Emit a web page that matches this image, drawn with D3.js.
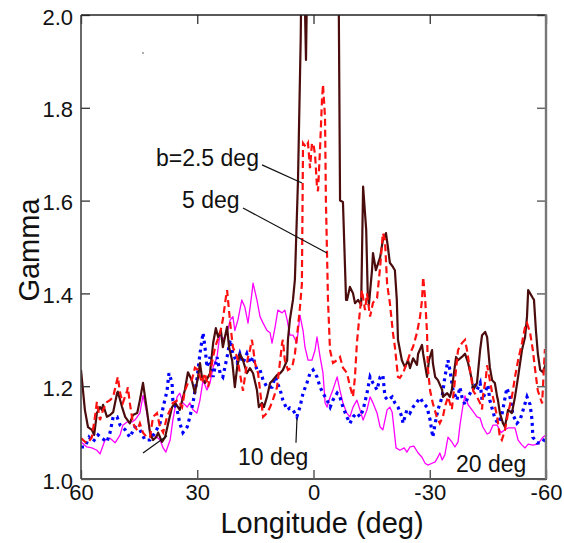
<!DOCTYPE html>
<html>
<head>
<meta charset="utf-8">
<script src="https://cdn.jsdelivr.net/npm/d3@7/dist/d3.min.js"></script>
<style>
  html, body { margin: 0; padding: 0; background: #fff; }
  svg { display: block; font-family: "Liberation Sans", Arial, sans-serif; }
</style>
</head>
<body>
<svg id="chart" width="564" height="543"></svg>
<script>
// ---- tick labels ----
const lonTicks = [60, 30, 0, -30, -60];
const gammaTicks = [1.0, 1.2, 1.4, 1.6, 1.8, 2.0];

// ---- series: [longitude (deg), gamma] ----
const b25 = [
[60,1.235],[59,1.149],[58.2,1.112],[57.2,1.106],[56.6,1.095],[55.9,1.142],[55.1,1.155],[54.6,1.149],[54.3,1.16],[53.3,1.134],[52.5,1.138],[51.7,1.144],[50.7,1.185],[50.5,1.188],[49.4,1.155],[48.6,1.134],[47.4,1.12],[46.6,1.138],[45.5,1.142],[44.8,1.17],[44,1.207],[43,1.149],[42.2,1.10],[41.4,1.084],[40.6,1.09],[40.1,1.10],[39.1,1.08],[38.3,1.09],[37.5,1.12],[36.5,1.155],[35.7,1.164],[34.5,1.149],[33.2,1.192],[32.4,1.23],[31.4,1.213],[30.6,1.185],[29.8,1.22],[29.3,1.25],[28.8,1.22],[28,1.207],[26.7,1.228],[25.9,1.293],[25.2,1.325],[24.6,1.306],[23.9,1.32],[23.4,1.284],[22.3,1.328],[21.8,1.284],[21,1.256],[20.3,1.198],[19.7,1.241],[19,1.27],[18.2,1.256],[17.2,1.228],[16.4,1.239],[15.6,1.228],[14.6,1.192],[14.1,1.155],[13.3,1.164],[12.8,1.155],[12,1.177],[11.2,1.207],[10.5,1.213],[9.4,1.224],[8.6,1.228],[7.9,1.235],[6.8,1.256],[6.6,1.30],[6.1,1.343],[5.3,1.386],[4.8,1.43],[4.0,1.644],[3.3,1.95],[3.1,2.1],[2.4,2.1],[1.94,1.903],[1.6,2.1],[1.0,2.3],[-5.5,2.3],[-6.5,2.05],[-6.85,1.60],[-7.6,1.597],[-8.4,1.386],[-8.65,1.386],[-9.4,1.414],[-10.2,1.40],[-10.7,1.379],[-11.5,1.386],[-12.3,1.375],[-12.8,1.63],[-13.6,1.537],[-14.0,1.40],[-14.3,1.375],[-15.1,1.45],[-15.35,1.487],[-16.1,1.45],[-17.2,1.478],[-17.9,1.515],[-18.7,1.53],[-19.2,1.50],[-19.7,1.466],[-20.5,1.457],[-21,1.45],[-21.5,1.386],[-21.8,1.30],[-22.8,1.256],[-23.6,1.241],[-24.4,1.256],[-24.9,1.239],[-25.7,1.26],[-26.7,1.246],[-27,1.27],[-28,1.289],[-28.3,1.27],[-29.3,1.22],[-29.8,1.256],[-30.6,1.278],[-30.8,1.25],[-31.4,1.22],[-32.1,1.213],[-33.2,1.192],[-33.4,1.177],[-34.5,1.185],[-35.2,1.177],[-35.7,1.192],[-36,1.213],[-36.8,1.263],[-37.3,1.256],[-38.3,1.263],[-39.1,1.27],[-39.9,1.25],[-40.9,1.213],[-41.2,1.192],[-42.2,1.207],[-43,1.278],[-43.5,1.31],[-44.3,1.317],[-44.8,1.306],[-45.5,1.241],[-46.1,1.213],[-46.8,1.207],[-47.4,1.177],[-47.6,1.17],[-48.1,1.142],[-48.9,1.12],[-49.4,1.112],[-50.2,1.149],[-51.2,1.142],[-52,1.177],[-52.8,1.22],[-53.8,1.278],[-54.6,1.306],[-55.1,1.35],[-55.4,1.407],[-55.9,1.40],[-56.6,1.39],[-56.9,1.386],[-57.4,1.32],[-57.9,1.27],[-58.5,1.235],[-59.2,1.23],[-60,1.25]
];

const b5 = [
[60,1.088],[58.97,1.08],[58.2,1.078],[57.2,1.09],[56.4,1.134],[55.9,1.166],[55.1,1.127],[54.3,1.149],[53.3,1.166],[52.5,1.17],[51.7,1.177],[50.5,1.22],[49.9,1.185],[49.2,1.164],[48.1,1.19],[47.9,1.198],[47.4,1.164],[46.6,1.12],[45.5,1.105],[44.8,1.12],[44,1.10],[43,1.09],[42.2,1.09],[41.4,1.134],[40.4,1.142],[39.6,1.112],[38.8,1.10],[37.8,1.134],[37,1.149],[36.3,1.164],[35,1.17],[33.9,1.155],[33.2,1.19],[32.4,1.207],[31.4,1.213],[30.6,1.24],[29.8,1.235],[28.8,1.207],[28,1.228],[27.2,1.198],[26.2,1.25],[25.4,1.284],[24.1,1.315],[23.4,1.343],[22.6,1.392],[22.3,1.407],[21.5,1.336],[20.8,1.284],[19.7,1.263],[19,1.228],[18.2,1.19],[17.7,1.22],[16.9,1.263],[16.4,1.278],[15.9,1.30],[15.6,1.284],[15.1,1.25],[14.3,1.228],[13.3,1.155],[13,1.134],[12,1.142],[11.2,1.155],[10.5,1.17],[9.4,1.198],[8.6,1.256],[8.1,1.293],[7.9,1.30],[7.4,1.256],[6.6,1.235],[5.5,1.241],[4.8,1.27],[4,1.328],[3.5,1.37],[3.0,1.42],[2.7,1.724],[1.94,1.715],[1.42,1.724],[0.9,1.67],[0.39,1.724],[0,1.72],[-0.39,1.70],[-0.9,1.63],[-1.16,1.62],[-1.68,1.71],[-2.19,1.817],[-2.45,1.85],[-2.97,1.78],[-3.2,1.60],[-3.48,1.49],[-3.74,1.385],[-4.26,1.278],[-5.03,1.25],[-6.06,1.256],[-6.84,1.263],[-7.6,1.24],[-8.65,1.228],[-9.4,1.20],[-10.2,1.177],[-10.7,1.22],[-11.2,1.293],[-12,1.364],[-12.5,1.407],[-13.3,1.364],[-13.8,1.40],[-14.6,1.35],[-15.35,1.38],[-16.4,1.39],[-17.2,1.457],[-17.9,1.53],[-18.45,1.515],[-19,1.42],[-19.7,1.38],[-20.5,1.315],[-21,1.285],[-21.8,1.22],[-22.3,1.218],[-23.1,1.228],[-24.1,1.25],[-24.9,1.27],[-25.7,1.285],[-26.7,1.315],[-27.5,1.35],[-28,1.385],[-28.3,1.435],[-28.8,1.39],[-29.3,1.315],[-29.5,1.24],[-30.1,1.19],[-30.8,1.163],[-31.8,1.134],[-32.6,1.12],[-33.4,1.134],[-33.9,1.155],[-34.7,1.177],[-35.7,1.15],[-36.5,1.213],[-37.3,1.278],[-38.3,1.293],[-39.1,1.30],[-39.6,1.278],[-40.4,1.235],[-41.2,1.19],[-42.2,1.177],[-43,1.163],[-43.5,1.15],[-43.7,1.177],[-44.5,1.22],[-44.8,1.245],[-45.5,1.213],[-46.3,1.177],[-47.4,1.134],[-48.1,1.09],[-48.6,1.084],[-49.4,1.105],[-50.2,1.142],[-51.2,1.177],[-52,1.22],[-52.8,1.256],[-53.8,1.293],[-54.6,1.328],[-55.1,1.336],[-55.9,1.315],[-56.6,1.278],[-57.2,1.235],[-57.9,1.19],[-59,1.163],[-59.7,1.278],[-60,1.278]
];

const b10 = [
[60,1.069],[59,1.069],[57.9,1.09],[56.9,1.08],[55.6,1.095],[54.6,1.088],[53.3,1.08],[52.5,1.10],[51.7,1.134],[50.7,1.134],[49.9,1.116],[48.6,1.106],[47.4,1.09],[46.1,1.112],[44.8,1.106],[43.5,1.084],[42.2,1.084],[40.9,1.10],[39.6,1.12],[38.8,1.155],[37.8,1.19],[37.3,1.228],[36.5,1.207],[36.3,1.17],[35.2,1.149],[34.5,1.12],[33.7,1.10],[32.6,1.112],[31.9,1.134],[31.1,1.164],[30.1,1.213],[29.3,1.27],[28.5,1.315],[28,1.284],[27.5,1.241],[26.7,1.263],[25.9,1.22],[24.9,1.263],[24.1,1.228],[23.4,1.22],[22.3,1.263],[21.5,1.30],[20.8,1.27],[19.7,1.25],[19,1.27],[18.2,1.25],[17.2,1.27],[16.4,1.25],[15.6,1.263],[14.6,1.235],[13.8,1.235],[13,1.213],[12,1.198],[10.7,1.198],[9.9,1.22],[8.6,1.192],[7.9,1.17],[6.8,1.149],[6.1,1.153],[5.3,1.149],[4.3,1.134],[3.5,1.155],[2.7,1.185],[1.7,1.207],[0.9,1.228],[0.1,1.235],[-0.9,1.22],[-1.7,1.198],[-2.45,1.185],[-3.5,1.17],[-4.3,1.155],[-5,1.17],[-6.1,1.185],[-6.8,1.177],[-7.6,1.155],[-8.6,1.134],[-9.4,1.12],[-10.2,1.134],[-11.2,1.142],[-12,1.134],[-12.8,1.149],[-13.8,1.185],[-14.6,1.22],[-15.35,1.207],[-16.4,1.192],[-17.2,1.22],[-17.9,1.224],[-18.45,1.177],[-19.2,1.17],[-20.3,1.177],[-21,1.164],[-21.8,1.155],[-22.8,1.134],[-23.1,1.12],[-24.1,1.149],[-24.9,1.142],[-25.7,1.155],[-26.7,1.166],[-27.5,1.175],[-28.3,1.164],[-29.3,1.155],[-30.1,1.127],[-30.6,1.10],[-30.8,1.09],[-31.4,1.12],[-32.1,1.149],[-33.2,1.177],[-33.9,1.22],[-34.7,1.256],[-35.2,1.235],[-36,1.192],[-37,1.17],[-37.8,1.198],[-38.3,1.177],[-39.1,1.16],[-39.9,1.177],[-40.9,1.192],[-41.7,1.207],[-42.2,1.192],[-43,1.207],[-43.5,1.17],[-44.3,1.185],[-45,1.203],[-45.5,1.17],[-46.8,1.131],[-47.6,1.12],[-48.6,1.138],[-49.9,1.196],[-50.7,1.177],[-51.5,1.138],[-52.5,1.12],[-53.3,1.127],[-54.1,1.149],[-55.1,1.177],[-55.9,1.16],[-56.4,1.127],[-56.6,1.09],[-57.7,1.078],[-59,1.078],[-60,1.09]
];

const b20 = [
[60,1.08],[58.5,1.069],[57.2,1.067],[55.9,1.062],[55.1,1.054],[53.8,1.084],[52.5,1.088],[51.2,1.078],[49.9,1.095],[49.2,1.116],[48.1,1.123],[46.8,1.123],[46.1,1.127],[44.8,1.142],[44,1.18],[43,1.142],[42.2,1.10],[41.4,1.095],[40.4,1.09],[39.6,1.084],[38.8,1.067],[38.1,1.058],[37,1.084],[36.3,1.127],[35.2,1.177],[34.5,1.185],[33.7,1.164],[32.6,1.155],[31.9,1.164],[31.1,1.149],[30.1,1.142],[29.3,1.17],[28.5,1.213],[27.5,1.192],[26.7,1.207],[25.9,1.241],[24.9,1.263],[24.1,1.315],[23.4,1.30],[22.3,1.315],[21.5,1.343],[20.8,1.35],[20.3,1.32],[19.5,1.343],[18.5,1.386],[17.7,1.37],[16.9,1.336],[15.9,1.40],[15.6,1.422],[14.6,1.386],[13.8,1.35],[13,1.336],[12,1.32],[11.2,1.315],[10.7,1.293],[9.9,1.328],[9.2,1.364],[8.1,1.358],[7.4,1.364],[6.8,1.343],[6.1,1.31],[5.3,1.31],[4.3,1.293],[3.5,1.353],[2.7,1.32],[2.2,1.284],[1.4,1.256],[0.4,1.256],[-0.4,1.278],[-0.9,1.306],[-1.7,1.263],[-2.45,1.228],[-3,1.164],[-3.5,1.155],[-4.3,1.177],[-5,1.192],[-6.1,1.22],[-6.8,1.192],[-7.6,1.164],[-8.6,1.142],[-9.4,1.134],[-10.2,1.155],[-11.2,1.17],[-12,1.149],[-12.8,1.127],[-13.8,1.149],[-14.6,1.177],[-15.35,1.164],[-16.4,1.142],[-17.2,1.112],[-17.9,1.106],[-19,1.149],[-19.7,1.155],[-20.3,1.144],[-20.8,1.106],[-21.3,1.067],[-22.3,1.062],[-23.4,1.067],[-24.1,1.058],[-24.9,1.069],[-25.9,1.071],[-27,1.056],[-28,1.047],[-28.8,1.034],[-29.5,1.03],[-30.6,1.034],[-31.4,1.037],[-32.1,1.047],[-32.6,1.056],[-33.2,1.041],[-33.9,1.052],[-34.7,1.09],[-35.7,1.08],[-36.5,1.069],[-37.3,1.08],[-37.8,1.116],[-38.6,1.16],[-39.1,1.179],[-39.9,1.16],[-40.9,1.149],[-42.2,1.134],[-43,1.131],[-43.7,1.112],[-44.8,1.097],[-45.5,1.10],[-46.3,1.116],[-47.4,1.116],[-48.4,1.10],[-49.4,1.106],[-50.2,1.11],[-51.2,1.11],[-52,1.11],[-52.8,1.084],[-53.8,1.073],[-54.6,1.067],[-55.4,1.075],[-56.6,1.073],[-57.9,1.075],[-59.2,1.09],[-60,1.095]
];

// ---- annotations (data units) ----
const labelTexts = ["b=2.5 deg", "5 deg", "10 deg", "20 deg"];
const labelAt = [[40.65, 1.675], [33.94, 1.584], [19.48, 1.030], [-36.77, 1.015]];
const leaders = [
  [[13.29, 1.677], [2.97, 1.638]],
  [[18.19, 1.584], [-3.48, 1.487]],
  [[4.26, 1.131], [4.52, 1.078]],
  [[44.0, 1.056], [37.8, 1.093]]
];
const specks = [[44.0, 1.918]];

// ---- layout ----
const svg = d3.select("#chart");
const W = 564, H = 543;
const plot = { left: 81, right: 546, top: 15, bottom: 479 };

svg.append("rect").attr("width", W).attr("height", H).attr("fill", "#fff");

const x = d3.scaleLinear().domain([60, -60]).range([plot.left, plot.right]);
const y = d3.scaleLinear().domain([1.0, 2.0]).range([plot.bottom, plot.top]);

svg.append("defs").append("clipPath").attr("id", "clip")
  .append("rect")
  .attr("x", plot.left).attr("y", plot.top)
  .attr("width", plot.right - plot.left).attr("height", plot.bottom - plot.top);

const line = d3.line().x(d => x(d[0])).y(d => y(d[1]));
const g = svg.append("g").attr("clip-path", "url(#clip)");

g.append("path").datum(b20).attr("d", line)
  .attr("fill", "none").attr("stroke", "#ff00ff").attr("stroke-width", 1.3)
  .attr("stroke-linejoin", "round");
g.append("path").datum(b10).attr("d", line)
  .attr("fill", "none").attr("stroke", "#0000ff").attr("stroke-width", 3.2)
  .attr("stroke-dasharray", "3,4");
g.append("path").datum(b25).attr("d", line)
  .attr("fill", "none").attr("stroke", "#4a0c0c").attr("stroke-width", 2.2)
  .attr("stroke-linejoin", "round");
g.append("path").datum(b5).attr("d", line)
  .attr("fill", "none").attr("stroke", "#ff1010").attr("stroke-width", 2.2)
  .attr("stroke-dasharray", "7,4");

// ---- axes ----
const fontSize = 22;
const axL = svg.append("g").attr("transform", `translate(${plot.left},0)`)
  .call(d3.axisLeft(y).tickValues(gammaTicks).tickFormat(d3.format(".1f"))
    .tickSizeInner(-9).tickSizeOuter(0).tickPadding(8));
const axB = svg.append("g").attr("transform", `translate(0,${plot.bottom})`)
  .call(d3.axisBottom(x).tickValues(lonTicks).tickFormat(d => d < 0 ? "-" + Math.abs(d) : String(d))
    .tickSizeInner(-9).tickSizeOuter(0).tickPadding(5));
const axT = svg.append("g").attr("transform", `translate(0,${plot.top})`)
  .call(d3.axisTop(x).tickValues(lonTicks).tickFormat("")
    .tickSizeInner(-9).tickSizeOuter(0));
const axR = svg.append("g").attr("transform", `translate(${plot.right},0)`)
  .call(d3.axisRight(y).tickValues(gammaTicks).tickFormat("")
    .tickSizeInner(-9).tickSizeOuter(0));

[axL, axB, axT, axR].forEach(a => a.select(".domain").remove());
[axL, axB].forEach(a => a.selectAll("text")
  .attr("font-family", "'Liberation Sans', Arial, sans-serif")
  .attr("font-size", fontSize).attr("fill", "#111"));
axL.selectAll("text").attr("dy", "0.41em");
axL.selectAll("line").attr("stroke", "#333").attr("stroke-width", 1.3);
axB.selectAll("line").attr("stroke", "#444").attr("stroke-width", 1.3);
axT.selectAll("line").attr("stroke", "#333").attr("stroke-width", 1.3);
axR.selectAll("line").attr("stroke", "#666").attr("stroke-width", 1.5);

// frame
svg.append("line").attr("x1", plot.left).attr("x2", plot.right).attr("y1", plot.top).attr("y2", plot.top)
  .attr("stroke", "#222").attr("stroke-width", 1.5);
svg.append("line").attr("x1", plot.left).attr("x2", plot.left).attr("y1", plot.top).attr("y2", plot.bottom)
  .attr("stroke", "#444").attr("stroke-width", 1.6);
svg.append("line").attr("x1", plot.left).attr("x2", plot.right + 1).attr("y1", plot.bottom).attr("y2", plot.bottom)
  .attr("stroke", "#555").attr("stroke-width", 2);
svg.append("line").attr("x1", plot.right).attr("x2", plot.right).attr("y1", plot.top - 0.75).attr("y2", plot.bottom)
  .attr("stroke", "#777").attr("stroke-width", 2.4);

// axis titles
svg.append("text").attr("x", 322).attr("y", 533).attr("text-anchor", "middle")
  .attr("font-size", 29).attr("fill", "#111").text("Longitude (deg)");
svg.append("text").attr("transform", "translate(39,250) rotate(-90)").attr("text-anchor", "middle")
  .attr("font-size", 29).attr("fill", "#111").text("Gamma");

// annotations
leaders.forEach(p => {
  svg.append("line")
    .attr("x1", x(p[0][0])).attr("y1", y(p[0][1]))
    .attr("x2", x(p[1][0])).attr("y2", y(p[1][1]))
    .attr("stroke", "#111").attr("stroke-width", 1.2);
});
labelTexts.forEach((t, i) => {
  svg.append("text").attr("x", x(labelAt[i][0])).attr("y", y(labelAt[i][1]))
    .attr("font-size", 23).attr("fill", "#111").text(t);
});
specks.forEach(s => {
  svg.append("circle").attr("cx", x(s[0])).attr("cy", y(s[1])).attr("r", 0.8).attr("fill", "#444");
});
</script>
</body>
</html>
